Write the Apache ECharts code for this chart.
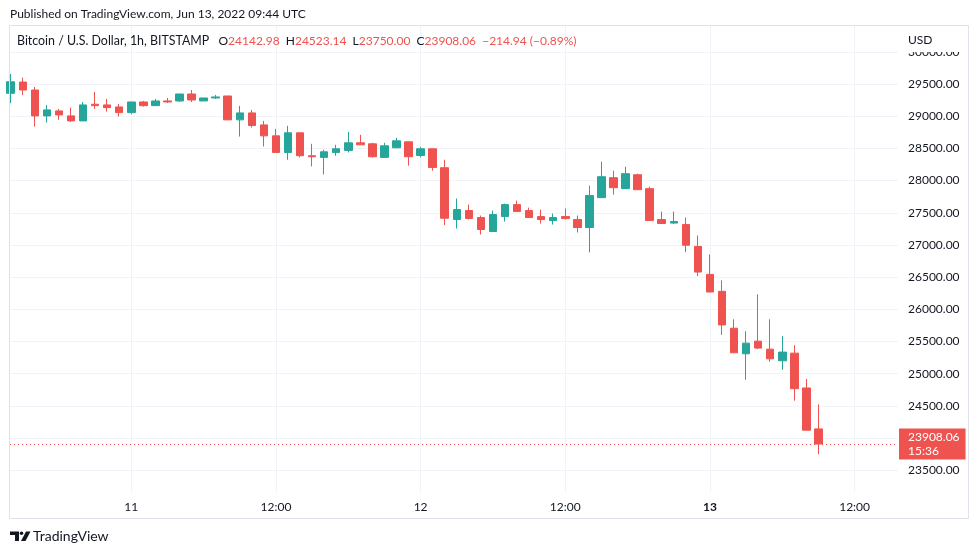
<!DOCTYPE html>
<html><head><meta charset="utf-8">
<script src="https://cdn.jsdelivr.net/npm/echarts@6/dist/echarts.min.js"></script>
<style>html,body{margin:0;padding:0;background:#fff}#c{width:979px;height:555px}</style>
</head><body><div id="c"></div>
<script>
// Hours relative to Jun 11 00:00 UTC; first bar = Jun 10 14:00 UTC, 1h bars
const firstBarHour = -10;
const opens  = [29356,29530,29407,29005,29082,29005,28927,29186,29175,29144,
                29056,29221,29164,29237,29237,29345,29237,29283,29314,28943,
                29051,28865,28695,28437,28742,28386,28360,28437,28468,28587,
                28571,28360,28509,28602,28390,28494,28200,27395,27535,27426,
                27209,27441,27627,27534,27441,27379,27441,27395,27271,27735,
                28045,27875,28091,27875,27395,27340,27317,26977,26543,26280,
                25707,25310,25506,25382,25201,25320,24779,24142.98];
const highs  = [29655,29598,29454,29175,29113,29133,29221,29376,29268,29190,
                29221,29237,29268,29283,29345,29407,29283,29330,29314,29160,
                29098,28927,28803,28850,28742,28571,28478,28556,28757,28711,
                28587,28587,28664,28602,28525,28494,28324,27720,27628,27457,
                27534,27643,27689,27580,27550,27488,27565,27457,27921,28293,
                28153,28215,28107,27906,27519,27519,27426,27147,26853,26450,
                25846,25661,26234,25846,25584,25444,24918,24523.14];
const lows   = [29201,29330,28839,28901,28943,28912,28927,29113,29071,28994,
                29031,29149,29164,29206,29221,29221,29237,29268,28943,28684,
                28824,28530,28437,28324,28360,28220,28096,28385,28437,28556,
                28355,28360,28509,28231,28360,28153,27307,27255,27395,27163,
                27209,27364,27519,27426,27333,27317,27395,27194,26884,27735,
                27782,27875,27859,27379,27333,27325,26888,26517,26269,25603,
                25325,24907,25382,25186,25062,24582,24123,23750.00];
const closes = [29535,29407,29005,29098,29020,28927,29175,29164,29133,29056,
                29221,29164,29237,29221,29345,29252,29283,29299,28943,29051,
                28855,28695,28437,28742,28386,28370,28447,28494,28587,28556,
                28370,28540,28618,28370,28494,28204,27415,27550,27411,27240,
                27472,27627,27519,27426,27395,27426,27410,27271,27767,28060,
                27890,28107,27859,27379,27333,27364,26996,26579,26269,25758,
                25325,25475,25398,25232,25336,24768,24123.00,23908.06];

const timeTickHours  = [0, 12, 24, 36, 48, 60];
const timeTickLabels = ['11', '12:00', '12', '12:00', '13', '12:00'];
const timeTickBold   = [false, false, false, false, true, false];
const priceTicks = [23500,24000,24500,25000,25500,26000,26500,27000,27500,28000,28500,29000,29500,30000];

const publishedText = 'Published on TradingView.com, Jun 13, 2022 09:44 UTC';
const symbolText = 'Bitcoin / U.S. Dollar, 1h, BITSTAMP';
const currencyText = 'USD';
const countdownText = '15:36';
const brandText = 'TradingView';

const UP = '#26a69a', DOWN = '#ef5350', TXT = '#131722', GRID = '#f0f3fa', BORDER = '#e0e3eb';
const FONT = 'Lato, "Noto Sans", sans-serif';

const candleData = opens.map((o, i) => [firstBarHour + i, o, closes[i], lows[i], highs[i]]);
const n = opens.length;
const lastO = opens[n-1], lastH = highs[n-1], lastL = lows[n-1], lastC = closes[n-1];
const chg = lastC - closes[n-2];
const pct = chg / closes[n-2] * 100;
const fmtSigned = v => (v < 0 ? '\u2212' : '+') + Math.abs(v).toFixed(2);

const legendText =
  '{n|' + symbolText + '}   ' +
  '{k|O}{v|' + lastO.toFixed(2) + '}  ' +
  '{k|H}{v|' + lastH.toFixed(2) + '}  ' +
  '{k|L}{v|' + lastL.toFixed(2) + '}  ' +
  '{k|C}{v|' + lastC.toFixed(2) + '}  ' +
  '{v|' + fmtSigned(chg) + ' (' + fmtSigned(pct) + '%)}';

const chart = echarts.init(document.getElementById('c'), null, {renderer: 'canvas'});
chart.setOption({
  animation: false,
  backgroundColor: '#ffffff',
  textStyle: {fontFamily: FONT},
  title: [
    {text: publishedText, left: 10, top: 8, padding: 0,
     textStyle: {fontSize: 12, fontWeight: 'normal', color: TXT, fontFamily: FONT}},
    {text: legendText, left: 17, top: 35, padding: 0,
     textStyle: {fontSize: 12, fontWeight: 'normal', fontFamily: FONT,
       rich: {
         n: {fontSize: 12.4, color: TXT, fontFamily: FONT},
         k: {fontSize: 12, color: TXT, fontFamily: FONT},
         v: {fontSize: 12, color: DOWN, fontFamily: FONT}
       }}}
  ],
  grid: {left: 10, right: 81, top: 26, bottom: 63, containLabel: false},
  xAxis: {
    type: 'value', min: -10.06, max: 63.6,
    axisLine: {show: false},
    axisTick: {show: false, customValues: timeTickHours},
    axisLabel: {
      customValues: timeTickHours, margin: 9, color: TXT, fontSize: 12, fontFamily: FONT,
      formatter: v => {
        const i = timeTickHours.indexOf(v);
        if (i < 0) return '';
        return timeTickBold[i] ? '{b|' + timeTickLabels[i] + '}' : timeTickLabels[i];
      },
      rich: {b: {fontWeight: 'bold', fontSize: 12, color: TXT, fontFamily: FONT}}
    },
    splitLine: {show: true, lineStyle: {color: GRID, width: 1}}
  },
  yAxis: {
    type: 'value', position: 'right', min: 23163, max: 30401,
    axisLine: {show: false},
    axisTick: {show: false, customValues: priceTicks},
    axisLabel: {customValues: priceTicks, margin: 10, color: TXT, fontSize: 12, fontFamily: FONT,
      formatter: v => v.toFixed(2)},
    splitLine: {show: true, lineStyle: {color: GRID, width: 1}}
  },
  series: [{
    type: 'candlestick',
    data: candleData,
    encode: {x: 0, y: [1, 2, 3, 4]},
    barWidth: 8,
    itemStyle: {color: UP, color0: DOWN, borderColor: UP, borderColor0: DOWN, borderWidth: 1},
    markLine: {
      silent: true, symbol: ['none', 'none'], animation: false,
      lineStyle: {color: DOWN, type: [1, 3], width: 1},
      label: {
        position: 'end', distance: 1, formatter: () => lastC.toFixed(2) + '\n' + countdownText,
        backgroundColor: DOWN, color: '#ffffff', fontSize: 12, lineHeight: 14,
        padding: [2, 6, 1, 9], fontFamily: FONT
      },
      data: [{yAxis: lastC}]
    }
  }],
  graphic: [
    {type: 'rect', z: 50, shape: {x: 9.5, y: 25.5, width: 959, height: 493},
     style: {fill: 'none', stroke: BORDER, lineWidth: 1}},
    {type: 'rect', z: 40, shape: {x: 899, y: 27, width: 68, height: 25}, style: {fill: '#ffffff'}},
    {type: 'text', z: 41, x: 908, y: 34, style: {text: currencyText, fill: TXT, fontSize: 12, fontFamily: FONT}},
    // logo mark
    {type: 'polygon', z: 41, shape: {points: [[10,531.5],[19,531.5],[19,541],[15,541],[15,535],[10,535]]}, style: {fill: TXT}},
    {type: 'circle', z: 41, shape: {cx: 21.5, cy: 533.3, r: 1.8}, style: {fill: TXT}},
    {type: 'polygon', z: 41, shape: {points: [[26,531.5],[30.5,531.5],[25.5,541],[21,541]]}, style: {fill: TXT}},
    {type: 'text', z: 41, x: 33, y: 529, style: {text: brandText, fill: TXT, fontSize: 14, fontFamily: FONT}}
  ]
});
</script></body></html>
